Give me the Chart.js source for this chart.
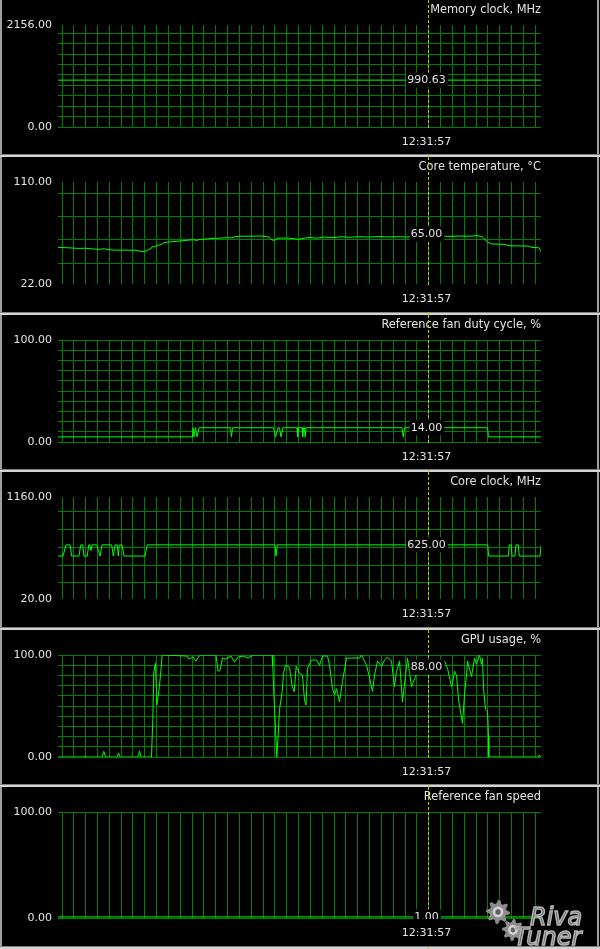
<!DOCTYPE html>
<html>
<head>
<meta charset="utf-8">
<title>Hardware monitoring</title>
<script src="https://cdn.jsdelivr.net/npm/chart.js@4.4.1/dist/chart.umd.min.js"></script>
<style>
    html, body { margin: 0; padding: 0; background: #000; }
    #monitor { position: relative; width: 600px; height: 949px; overflow: hidden; background: #000; }
    #monitor canvas { position: absolute; left: 0; }
</style>
</head>
<body>
<div id="monitor"></div>
<script>
/* =========================================
   DATA (x = sample index in the history window)
   ========================================= */
const titles = ['Memory clock, MHz', 'Core temperature, °C', 'Reference fan duty cycle, %',
                'Core clock, MHz', 'GPU usage, %', 'Reference fan speed'];
const yMin  = [0, 22, 0, 20, 0, 0];
const yMax  = [2156, 110, 100, 1160, 100, 100];
const yStep = [220, 20, 10, 200, 10, 100];
const cursorValues = [990.63, 65, 14, 625, 88, 1];
const cursorTime = '12:31:57';
const cursorSample = 370;
const historyLength = 483;
const timeGridStart = 4, timeGridStep = 11.83, timeGridCount = 41;

const memoryClock = [[0, 990.63], [483, 990.63]];

const coreTemp = [
    [0, 53.6], [11, 53.2], [21, 52.7], [27, 52.9], [31, 52.5], [41, 51.9], [46, 52.4], [51, 51.5],
    [58, 51.2], [78, 51.2], [81, 50.5], [84, 49.9], [88, 50.5], [91, 51.9], [93, 52.4], [94, 54.2],
    [97, 54], [99, 55.3], [103, 56], [106, 57.5], [109, 58.1], [116, 58.6], [121, 59], [126, 59.5],
    [131, 59.9], [136, 60.2], [139, 59.5], [141, 60.4], [148, 60.8], [154, 61.3], [161, 61.5],
    [167, 61.9], [174, 61.9], [177, 62.8], [181, 63.2], [191, 63.2], [204, 63.4], [211, 62.5],
    [213, 60.5], [216, 59.6], [219, 61], [221, 61.6], [231, 61.6], [236, 61], [241, 60.6],
    [246, 61.5], [251, 62.2], [259, 61.5], [266, 62.5], [276, 62], [283, 62.8], [291, 62.3],
    [301, 62.8], [311, 62.5], [321, 62.9], [331, 62.6], [341, 62.8], [349, 62.5], [360, 63.5],
    [370, 65], [384, 63.5], [391, 63], [401, 63.4], [411, 63.2], [419, 63.8], [424, 62.8],
    [428, 59.5], [431, 57.6], [433, 56.6], [446, 56.2], [451, 55], [471, 54.7], [474, 53.5],
    [481, 53.3], [483, 49.9]
];

const fanDuty = [
    [0, 5], [134.5, 5], [135, 14], [136, 5], [137.5, 14], [139, 5], [141, 14],
    [172.5, 14], [173.5, 5], [174.5, 14],
    [215.5, 14], [217.5, 5], [220, 14], [221.5, 14], [223, 5], [225, 14],
    [239, 14], [239.7, 5], [240.5, 14], [244, 14], [244.7, 5], [245.5, 14], [246.5, 14], [247.2, 5], [248, 14],
    [344, 14], [345.2, 5], [346.5, 14],
    [429.5, 14], [430.5, 5], [483, 5]
];

const coreClock = [
    [0, 500], [5, 500], [8, 625], [12, 625], [13.7, 500], [21, 500], [22.7, 625], [24.7, 625],
    [26, 500], [29.3, 500], [30.7, 625], [32, 625], [33, 560], [34, 625], [38.7, 625], [42, 500],
    [44, 625], [53.7, 625], [55.3, 500], [57, 625], [59.3, 625], [60.3, 500], [61.3, 625], [64, 625],
    [66, 500], [87, 500], [89.3, 625], [217, 625], [218, 500], [219.3, 625], [429.7, 625],
    [430.7, 500], [450.3, 500], [451.3, 625], [453.3, 625], [454, 500], [457, 500], [458, 625],
    [460.3, 625], [461.3, 500], [482, 500], [483, 615]
];

const gpuUsage = [
    [0, 0], [26.5, 0], [27, 1], [27.5, 0], [44, 0], [45.8, 5.6], [47.5, 0], [59, 0], [60.5, 4], [62, 0],
    [80, 0], [81.5, 6], [83, 0], [93.5, 0], [94.8, 36.8], [95.8, 83.6], [97.5, 92], [98.8, 51],
    [100.8, 64], [102.5, 80], [104.2, 100], [129, 99], [131, 96], [135, 98], [138, 94], [141, 99],
    [143.5, 100], [158, 100], [160, 84], [162, 85], [164.5, 97], [168, 96], [173, 99], [176.5, 93],
    [180, 98], [185, 99], [190, 97], [195, 100], [214, 100], [214.8, 89], [215.5, 69.5], [217.5, 27],
    [218.8, 0], [220.2, 22], [221.5, 46.6], [224.2, 64.3], [225.5, 82], [227.5, 90], [231.5, 88],
    [234.2, 69.5], [236.2, 64], [238.2, 89], [241.5, 82], [244.5, 80], [246.5, 56], [248, 51],
    [249.5, 87], [253.5, 95], [258.5, 95], [261.5, 90], [264.5, 99], [269.5, 99], [271.5, 90],
    [274.5, 67], [276.5, 60.7], [278.5, 67], [281.5, 54], [284.5, 74], [288.5, 97], [301.5, 97],
    [303.5, 100], [308.5, 90], [311.5, 78], [314.5, 64], [316.5, 80], [319.5, 94], [323.5, 89],
    [326.5, 95], [329.5, 98], [333.5, 94], [336.5, 69], [338.5, 84], [341.5, 94], [344.5, 54],
    [347.5, 80], [349.5, 97], [353.5, 69], [358, 80], [365, 92], [370, 88], [378, 90], [386.5, 94],
    [389.5, 87], [393.5, 69], [394.5, 72], [396.5, 84], [398.5, 80], [400.5, 57], [403.5, 38],
    [404.5, 33], [406.5, 61], [408.5, 80], [409.5, 94], [413.5, 79], [416.5, 97], [418.5, 91],
    [421.5, 100], [423.5, 91], [424.5, 97], [425.5, 67], [427.5, 47], [429.5, 45], [430.5, 21],
    [430.8, 0], [480.5, 0], [481, 2], [483, 0.5]
];

const fanSpeed = [[0, 1], [483, 1]];

const seriesList = [memoryClock, coreTemp, fanDuty, coreClock, gpuUsage, fanSpeed];

/* =========================================
   LOOK
   ========================================= */
const panelTop    = [0, 157, 315, 472, 630, 787];
const panelHeight = [157, 158, 157, 158, 157, 162];
const plotHeight  = [102, 102, 102, 102, 102, 106];

const GRID = '#008000';
const LINE = '#00ff00';
const TEXT = '#e4e4e4';
const CURSOR = '#c8c800';

Chart.defaults.font.family = '"DejaVu Sans", sans-serif';
Chart.defaults.font.size = 11;
Chart.defaults.color = TEXT;

const timeGrid = [];
for (let k = 0; k < timeGridCount; k++) timeGrid.push(timeGridStart + k * timeGridStep);

function drawGear(ctx, cx, cy, r, teeth) {
    ctx.beginPath();
    for (let k = 0; k < teeth * 4; k++) {
        const a = k * Math.PI / (teeth * 2);
        const rr = (k % 4 < 2) ? r : r * 0.72;
        const px = cx + Math.cos(a) * rr, py = cy + Math.sin(a) * rr;
        if (k === 0) ctx.moveTo(px, py); else ctx.lineTo(px, py);
    }
    ctx.closePath();
    ctx.fillStyle = '#8c8c8c';
    ctx.fill();
    ctx.beginPath();
    ctx.arc(cx, cy, r * 0.45, 0, Math.PI * 2);
    ctx.fillStyle = '#d0d0d0';
    ctx.fill();
    ctx.beginPath();
    ctx.arc(cx, cy, r * 0.22, 0, Math.PI * 2);
    ctx.fillStyle = '#606060';
    ctx.fill();
}

// black background, sunken frame, cursor and its read-outs
const monitorOverlay = {
    id: 'monitorOverlay',
    beforeDraw(chart) {
        const {ctx, width, height} = chart;
        ctx.save();
        ctx.fillStyle = '#000';
        ctx.fillRect(0, 0, width, height);
        ctx.fillStyle = '#a0a0a0';
        ctx.fillRect(0, 0, 2, height);
        ctx.fillRect(597, 0, 2, height);
        ctx.fillStyle = '#808080';
        ctx.fillRect(0, height - 3, width, 1);
        ctx.fillStyle = '#d4d4d4';
        ctx.fillRect(0, height - 2, width, 2);
        ctx.restore();
    },
    afterDraw(chart, args, opts) {
        const {ctx, chartArea, height} = chart;
        const x = chart.scales.x, y = chart.scales.y;
        const cx = Math.floor(x.getPixelForValue(opts.cursor)) + 0.5;
        ctx.save();
        ctx.strokeStyle = CURSOR;
        ctx.lineWidth = 1;
        ctx.setLineDash([3, 2]);
        ctx.beginPath();
        ctx.moveTo(cx, 0);
        ctx.lineTo(cx, height);
        ctx.stroke();
        ctx.setLineDash([]);

        ctx.font = '11px "DejaVu Sans"';
        ctx.textAlign = 'center';
        ctx.textBaseline = 'middle';
        const tx = cx - 2;

        const vy = y.getPixelForValue(opts.value);
        const vw = ctx.measureText(opts.label).width;
        ctx.fillStyle = '#000';
        ctx.fillRect(tx - vw / 2 - 1, vy - 7.5, vw + 3, 15);
        ctx.fillStyle = TEXT;
        ctx.fillText(opts.label, tx, vy);

        const tw = ctx.measureText(opts.time).width;
        ctx.fillStyle = '#000';
        ctx.fillRect(tx - tw / 2 - 1, chartArea.bottom + 1, tw + 3, height - chartArea.bottom - 4);
        ctx.fillStyle = TEXT;
        ctx.fillText(opts.time, tx, chartArea.bottom + 15);

        if (opts.logo) {
            drawGear(ctx, 498, height - 37, 12, 8);
            drawGear(ctx, 513, height - 19, 11, 8);
            ctx.textAlign = 'left';
            ctx.textBaseline = 'alphabetic';
            ctx.font = 'italic 24px "DejaVu Sans"';
            ctx.lineWidth = 1.5;
            ctx.strokeStyle = '#b4b4b4';
            ctx.fillStyle = 'rgba(90,90,90,0.9)';
            ctx.fillText('Riva', 530, height - 24);
            ctx.strokeText('Riva', 530, height - 24);
            ctx.fillText('Tuner', 514, height - 4);
            ctx.strokeText('Tuner', 514, height - 4);
        }
        ctx.restore();
    }
};

/* =========================================
   PANELS
   ========================================= */
function crearPanel(i) {
    const canvas = document.createElement('canvas');
    canvas.width = 600;
    canvas.height = panelHeight[i];
    canvas.style.top = panelTop[i] + 'px';
    document.getElementById('monitor').appendChild(canvas);

    const min = yMin[i], max = yMax[i], step = yStep[i];
    const gridValues = [];
    for (let v = Math.ceil(min / step) * step; v <= max; v += step) gridValues.push(v);
    const tickValues = Array.from(new Set([min, ...gridValues, max])).sort((a, b) => a - b);

    new Chart(canvas, {
        type: 'line',
        data: {
            datasets: [{
                data: seriesList[i].map(p => ({x: p[0], y: p[1]})),
                borderColor: LINE,
                borderWidth: 1,
                pointRadius: 0,
                tension: 0,
                fill: false
            }]
        },
        options: {
            responsive: false,
            animation: false,
            events: [],
            layout: { padding: { left: 0, right: 59, top: 0, bottom: panelHeight[i] - 25 - plotHeight[i] } },
            plugins: {
                legend: { display: false },
                tooltip: { enabled: false },
                title: {
                    display: true,
                    text: titles[i],
                    align: 'end',
                    color: TEXT,
                    font: { size: 11.4, weight: 'normal', lineHeight: '13px' },
                    padding: { top: 4, bottom: 8 }
                },
                monitorOverlay: {
                    cursor: cursorSample,
                    value: cursorValues[i],
                    label: cursorValues[i].toFixed(2),
                    time: cursorTime,
                    logo: i === 5
                }
            },
            scales: {
                x: {
                    type: 'linear',
                    min: 0,
                    max: historyLength,
                    bounds: 'data',
                    afterBuildTicks: s => { s.ticks = timeGrid.map(v => ({value: v})); },
                    grid: { color: GRID, drawTicks: false },
                    border: { display: false },
                    ticks: { display: false }
                },
                y: {
                    type: 'linear',
                    min: min,
                    max: max,
                    bounds: 'data',
                    afterBuildTicks: s => { s.ticks = tickValues.map(v => ({value: v})); },
                    afterFit: s => { s.width = 58; },
                    grid: {
                        color: c => gridValues.includes(c.tick.value) ? GRID : 'rgba(0,0,0,0)',
                        drawTicks: false
                    },
                    border: { display: false },
                    ticks: {
                        autoSkip: false,
                        padding: 6,
                        color: TEXT,
                        callback: v => (v === min || v === max) ? v.toFixed(2) : ''
                    }
                }
            }
        },
        plugins: [monitorOverlay]
    });
}

for (let i = 0; i < titles.length; i++) crearPanel(i);
</script>
</body>
</html>
